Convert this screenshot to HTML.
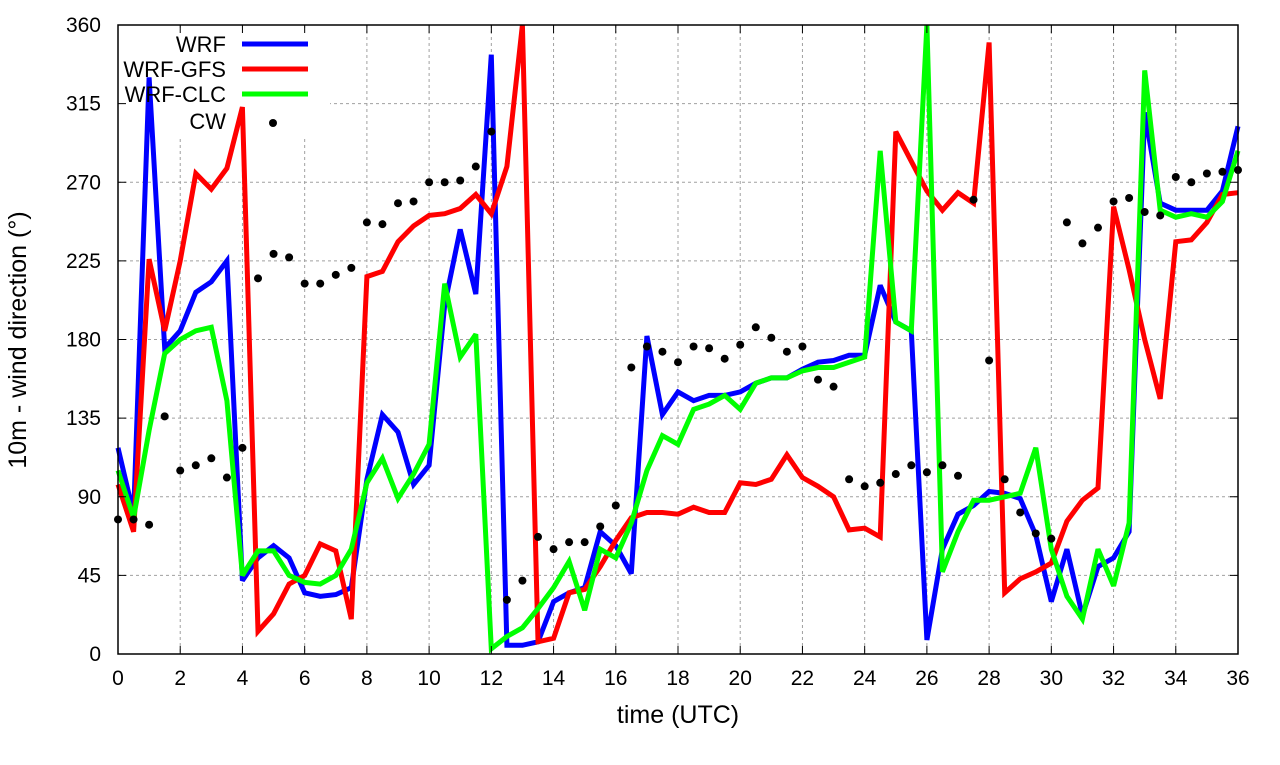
<!DOCTYPE html>
<html><head><meta charset="utf-8"><style>
body{margin:0;background:#fff;font-family:"Liberation Sans",sans-serif}
svg text{font-family:"Liberation Sans",sans-serif}
</style></head><body>
<svg id="chart" width="1280" height="760" viewBox="0 0 1280 760" xmlns="http://www.w3.org/2000/svg">
<g id="grid"></g>
<rect x="108" y="28" width="222" height="108" fill="#fff"/>
<g id="series"></g>
<g id="legend"></g>
<rect x="118" y="25" width="1120" height="629" fill="none" stroke="#000" stroke-width="1.5"/>
<g id="axes"></g>
<text x="678" y="723" font-size="25" text-anchor="middle">time (UTC)</text>
<text transform="translate(26,340) rotate(-90)" font-size="25" text-anchor="middle">10m - wind direction (°)</text>
</svg>
<script>
const times = [0,0.5,1,1.5,2,2.5,3,3.5,4,4.5,5,5.5,6,6.5,7,7.5,8,8.5,9,9.5,10,10.5,11,11.5,12,12.5,13,13.5,14,14.5,15,15.5,16,16.5,17,17.5,18,18.5,19,19.5,20,20.5,21,21.5,22,22.5,23,23.5,24,24.5,25,25.5,26,26.5,27,27.5,28,28.5,29,29.5,30,30.5,31,31.5,32,32.5,33,33.5,34,34.5,35,35.5,36];
const wrf = [118,80,330,175,185,207,213,225,42,55,62,55,35,33,34,38,100,137,127,97,108,200,243,206,343,5,5,7,30,35,38,70,62,46,182,137,150,145,148,148,150,155,158,158,163,167,168,171,171,211,190,185,8,60,80,85,93,92,89,68,30,60,22,50,55,70,310,258,254,254,254,265,302];
const gfs = [97,70,226,185,225,275,266,278,313,13,23,40,45,63,59,20,216,219,236,245,251,252,255,263,252,279,360,7,9,35,37,50,65,78,81,81,80,84,81,81,98,97,100,114,101,96,90,71,72,67,299,282,265,254,264,258,350,35,43,47,52,76,88,95,256,220,180,146,236,237,247,263,264];
const clc = [105,78,128,172,180,185,187,145,45,59,59,45,41,40,45,60,98,112,89,103,120,212,170,183,3,10,15,26,38,53,25,60,55,75,105,125,120,140,143,148,140,155,158,158,162,164,164,167,170,288,190,185,360,47,70,88,88,90,92,118,60,33,20,60,39,75,334,254,250,252,250,259,288];
const cwTimes = [0,0.5,1,1.5,2,2.5,3,3.5,4,4.5,5,5.5,6,6.5,7,7.5,8,8.5,9,9.5,10,10.5,11,11.5,12,12.5,13,13.5,14,14.5,15,15.5,16,16.5,17,17.5,18,18.5,19,19.5,20,20.5,21,21.5,22,22.5,23,23.5,24,24.5,25,25.5,26,26.5,27,27.5,28,28.5,29,29.5,30,30.5,31,31.5,32,32.5,33,33.5,34,34.5,35,35.5,36];
const cw = [77,77,74,136,105,108,112,101,118,215,229,227,212,212,217,221,247,246,258,259,270,270,271,279,299,31,42,67,60,64,64,73,85,164,176,173,167,176,175,169,177,187,181,173,176,157,153,100,96,98,103,108,104,108,102,260,168,100,81,69,66,247,235,244,259,261,253,251,273,270,275,276,277];
const xTicks = [0,2,4,6,8,10,12,14,16,18,20,22,24,26,28,30,32,34,36];
const yTicks = [0,45,90,135,180,225,270,315,360];

const NS="http://www.w3.org/2000/svg";
const X0=118,X1=1238,Y0=654,Y1=25;
const xs=t=>X0+(X1-X0)*t/36;
const ys=v=>Y0-(Y0-Y1)*v/360;
function mk(tag,attrs,parent){const e=document.createElementNS(NS,tag);for(const k in attrs)e.setAttribute(k,attrs[k]);parent.appendChild(e);return e;}
const grid=document.getElementById('grid'),axes=document.getElementById('axes'),ser=document.getElementById('series'),leg=document.getElementById('legend');
xTicks.forEach(t=>{
  const x=xs(t);
  if(t>0&&t<36){const g=mk('line',{x1:x,x2:x,y1:Y1,y2:Y0,stroke:'#a0a0a0','stroke-width':1,'stroke-dasharray':'3,3'},grid);
  
  }
  const tk=mk('path',{d:`M${x},${Y0}v-8M${x},${Y1}v8`,stroke:'#000','stroke-width':1},axes);
  
  
  const tx=mk('text',{x:x,y:685,'font-size':21,'text-anchor':'middle'},axes);
  tx.textContent=t;
  
  
});
yTicks.forEach(v=>{
  const y=ys(v);
  if(v>0&&v<360){const g=mk('line',{x1:X0,x2:X1,y1:y,y2:y,stroke:'#a0a0a0','stroke-width':1,'stroke-dasharray':'3,3'},grid);
  
  }
  const tk=mk('path',{d:`M${X0},${y}h8M${X1},${y}h-8`,stroke:'#000','stroke-width':1},axes);
  
  
  const tx=mk('text',{x:101,y:y+7,'font-size':21,'text-anchor':'end'},axes);
  tx.textContent=v;
  
  
});
function line(vals,color,name){
  const d=vals.map((v,i)=>(i?'L':'M')+xs(times[i]).toFixed(1)+','+ys(v).toFixed(1)).join('');
  const p=mk('path',{d:d,fill:'none',stroke:color,'stroke-width':5,'stroke-linejoin':'miter','stroke-miterlimit':3},ser);
  
  
}
line(wrf,'#0000ff','wrf-line');
line(gfs,'#ff0000','wrf-gfs-line');
line(clc,'#00ff00','wrf-clc-line');
cw.forEach((v,i)=>{
  const c=mk('circle',{cx:xs(cwTimes[i]),cy:ys(v),r:4,fill:'#000'},ser);
  
  
});
const legItems=[['WRF','#0000ff',44],['WRF-GFS','#ff0000',69],['WRF-CLC','#00ff00',94],['CW',null,121]];
legItems.forEach(([lab,col,y])=>{
  const g=mk('g',{},leg);
  
  
  const t=mk('text',{x:226,y:y+8,'font-size':22,'text-anchor':'end'},g);
  t.textContent=lab;
  if(col){mk('line',{x1:242,x2:308,y1:y,y2:y,stroke:col,'stroke-width':5},g);}
  else{mk('circle',{cx:273,cy:y+2,r:4,fill:'#000'},g);}
});
</script>
</body></html>
